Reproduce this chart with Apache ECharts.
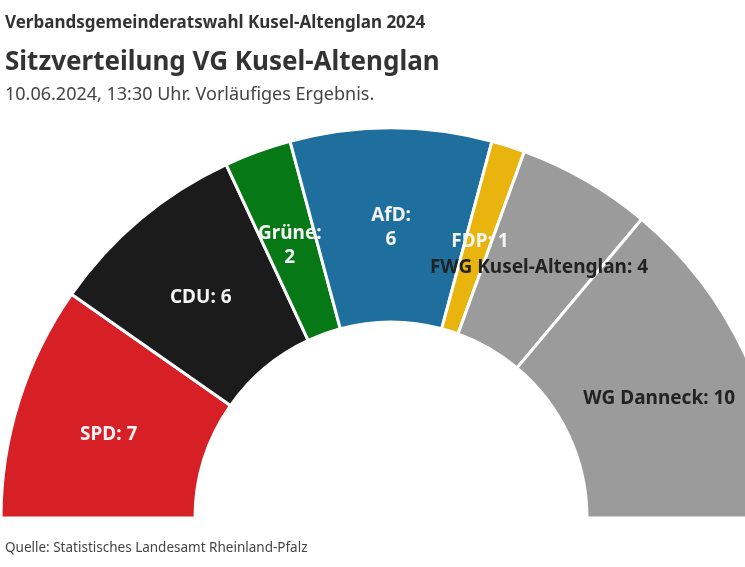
<!DOCTYPE html>
<html>
<head>
<meta charset="utf-8">
<script src="https://cdn.jsdelivr.net/npm/echarts@6/dist/echarts.min.js"></script>
<style>
  html, body { margin: 0; padding: 0; background: #fff; }
  #chart { width: 745px; height: 567px; }
</style>
</head>
<body>
<div id="chart"></div>
<script>
var parties = ["SPD", "CDU", "Grüne", "AfD", "FDP", "FWG Kusel-Altenglan", "WG Danneck"];
var seats = [7, 6, 2, 6, 1, 4, 10];
var colors = ["#d71f26", "#1b1b1b", "#067816", "#1e6f9e", "#e9b40e", "#9b9b9b", "#9b9b9b"];
var labelColors = ["#f4f4f4", "#f4f4f4", "#f4f4f4", "#f4f4f4", "#f4f4f4", "#222", "#222"];
// these two labels wrap onto two lines in the original
var wrapped = ["Grüne", "AfD"];

var font = "'Noto Sans', 'Open Sans', sans-serif";

var myChart = echarts.init(document.getElementById("chart"));

var data = parties.map(function (name, i) {
  return {
    name: name,
    value: seats[i],
    itemStyle: { color: colors[i] },
    label: {
      color: labelColors[i],
      formatter: wrapped.indexOf(name) >= 0 ? "{b}:\n{c}" : "{b}: {c}"
    }
  };
});

var option = {
  animation: false,
  title: [
    {
      text: "Verbandsgemeinderatswahl Kusel-Altenglan 2024",
      left: 0, top: 10,
      textStyle: { fontFamily: font, fontSize: 17, fontWeight: "bold", color: "#333" }
    },
    {
      text: "Sitzverteilung VG Kusel-Altenglan",
      left: 0, top: 45,
      textStyle: { fontFamily: font, fontSize: 26, fontWeight: "bold", color: "#333" }
    },
    {
      text: "10.06.2024, 13:30 Uhr. Vorläufiges Ergebnis.",
      left: 0, top: 81,
      textStyle: { fontFamily: font, fontSize: 18, fontWeight: "normal", color: "#444" }
    },
    {
      text: "Quelle: Statistisches Landesamt Rheinland-Pfalz",
      left: 0, top: 536,
      textStyle: { fontFamily: font, fontSize: 13.5, fontWeight: "normal", color: "#444" }
    }
  ],
  series: [
    {
      type: "pie",
      center: [391, 518],
      radius: [196, 390],
      startAngle: 180,
      endAngle: 0,
      clockwise: true,
      avoidLabelOverlap: false,
      labelLayout: { hideOverlap: false },
      itemStyle: { borderColor: "#fff", borderWidth: 3 },
      label: {
        show: true,
        position: "inside",
        fontFamily: font,
        fontSize: 19,
        fontWeight: "bold",
        lineHeight: 24,
        align: "center",
        offset: [0, 6]
      },
      labelLine: { show: false },
      emphasis: { disabled: true },
      data: data
    }
  ]
};

myChart.setOption(option);
</script>
</body>
</html>
